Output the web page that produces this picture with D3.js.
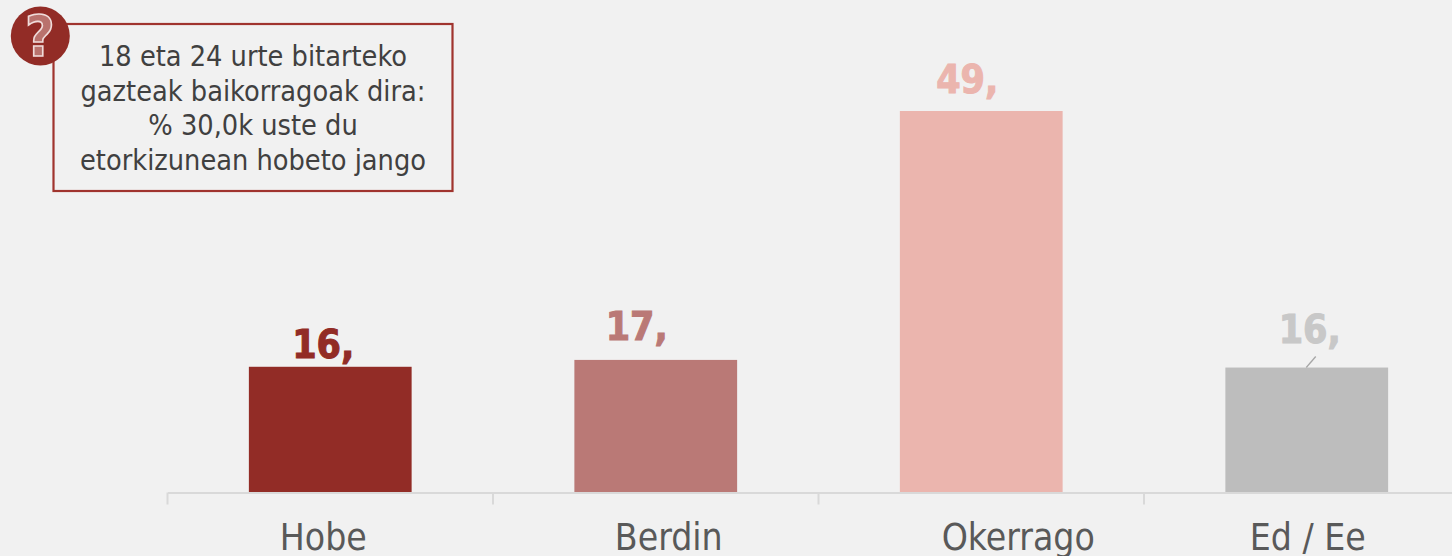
<!DOCTYPE html>
<html><head><meta charset="utf-8">
<script src="https://cdnjs.cloudflare.com/ajax/libs/d3/7.8.5/d3.min.js"></script>
<style>
html,body{margin:0;padding:0;background:#f1f1f1;overflow:hidden}
svg{display:block}
</style></head><body>
<svg id="c" width="1452" height="556"></svg>
<script>
const categories = ["Hobe","Berdin","Okerrago","Ed / Ee"];
const values = [16.4,17.3,49.9,16.3];
const valueLabels = ["16,","17,","49,","16,"];
const barColors = ["#922c26","#ba7976","#ebb5ae","#bdbdbd"];
const labelColors = ["#922c26","#ba7976","#ebb5ae","#c8c8c8"];
const noteLines = ["18 eta 24 urte bitarteko","gazteak baikorragoak dira:","% 30,0k uste du","etorkizunean hobeto jango"];
// manual label displacements from the original chart (px)
const catNudge = [-7,13,37,1];
const valNudge = [-7,-19,-14,3];
const valLift = [9,20,18,25];

const W=1452,H=556,base=492.5;
const FONT='"DejaVu Sans Condensed","DejaVu Sans",sans-serif';
const svg=d3.select("#c");
const x=d3.scaleBand().domain(categories).range([167.5,1469.5]).paddingInner(0.5).paddingOuter(0.25);
const y=d3.scaleLinear().domain([0,49.9]).range([base-0.5,111]);

const axis=svg.append("g").attr("transform",`translate(0,${base})`)
  .call(d3.axisBottom(x).tickSize(0).tickFormat(""));
axis.select(".domain").attr("stroke","#d9d9d9").attr("stroke-width",2);
const edges=categories.map(c=>x(c)-x.step()*0.25).concat([1469.5]);
svg.selectAll("line.t").data(edges).join("line").attr("class","t")
  .attr("x1",d=>d).attr("x2",d=>d).attr("y1",base).attr("y2",base+12)
  .attr("stroke","#d9d9d9").attr("stroke-width",2);

svg.selectAll("rect.b").data(categories).join("rect").attr("class","b")
  .attr("x",d=>x(d)).attr("width",x.bandwidth())
  .attr("y",(d,i)=>y(values[i])).attr("height",(d,i)=>y(0)-y(values[i]))
  .attr("fill",(d,i)=>barColors[i]);

svg.selectAll("text.v").data(categories).join("text").attr("class","v")
  .attr("x",(d,i)=>x(d)+x.bandwidth()/2+valNudge[i])
  .attr("y",(d,i)=>y(values[i])-valLift[i])
  .attr("text-anchor","middle").attr("font-family",FONT).attr("font-weight",700)
  .attr("font-size",39).attr("fill",(d,i)=>labelColors[i])
  .attr("stroke",(d,i)=>labelColors[i]).attr("stroke-width",1).text((d,i)=>valueLabels[i]);

svg.selectAll("text.c").data(categories).join("text").attr("class","c")
  .attr("x",(d,i)=>x(d)+x.bandwidth()/2+catNudge[i]).attr("y",550)
  .attr("text-anchor","middle").attr("font-family",FONT)
  .attr("font-size",37).attr("fill","#595959").text(d=>d);

// leader line for the last label
const last=categories[3];
svg.append("line").attr("x1",x(last)+x.bandwidth()/2-0.5).attr("y1",y(values[3]))
  .attr("x2",x(last)+x.bandwidth()/2+9).attr("y2",y(values[3])-11)
  .attr("stroke","#a6a6a6").attr("stroke-width",1.3);

// note box
svg.append("rect").attr("x",53.5).attr("y",24).attr("width",399).attr("height",167)
  .attr("fill","none").attr("stroke","#a0342e").attr("stroke-width",2.2);
svg.selectAll("text.n").data(noteLines).join("text").attr("class","n")
  .attr("x",253).attr("y",(d,i)=>66+i*34.7).attr("text-anchor","middle")
  .attr("font-family",FONT).attr("font-size",28.6).attr("fill","#404040").text(d=>d);

// question badge
svg.append("circle").attr("cx",40.3).attr("cy",36).attr("r",29.5).attr("fill","#922c26");
svg.append("text").attr("x",40).attr("y",57).attr("text-anchor","middle")
  .attr("font-family",FONT).attr("font-weight",700).attr("font-size",57)
  .attr("fill","#b9726d").attr("stroke","#f0dcda").attr("stroke-width",1.6).text("?");
</script>
</body></html>
